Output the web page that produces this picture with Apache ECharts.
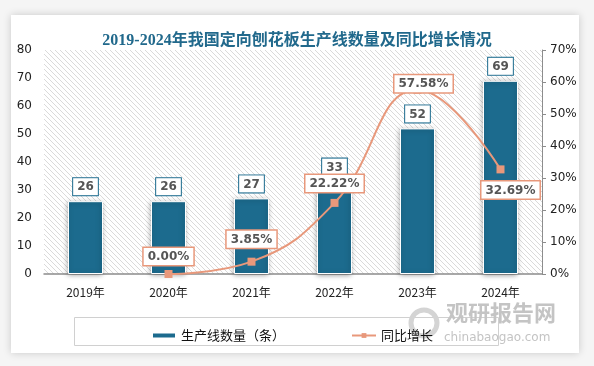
<!DOCTYPE html>
<html><head><meta charset="utf-8">
<script src="https://cdn.jsdelivr.net/npm/echarts@6/dist/echarts.min.js"></script>
<style>html,body{margin:0;padding:0;background:#f5f5f5;}#c{width:594px;height:366px;}</style>
</head><body><div id="c"></div>
<script>
const years = ['2019年','2020年','2021年','2022年','2023年','2024年'];
const lineCount = [26, 26, 27, 33, 52, 69];
const yoyGrowth = [null, 0.00, 3.85, 22.22, 57.58, 32.69];

const pc = document.createElement('canvas');
pc.width = 5; pc.height = 5;
const g = pc.getContext('2d');
g.fillStyle = '#ffffff'; g.fillRect(0,0,5,5);
g.strokeStyle = '#dadada'; g.lineWidth = 1;
g.beginPath(); g.moveTo(-1,-1); g.lineTo(6,6); g.stroke();
g.beginPath(); g.moveTo(-1,4); g.lineTo(1,6); g.stroke();
g.beginPath(); g.moveTo(4,-1); g.lineTo(6,1); g.stroke();

const chart = echarts.init(document.getElementById('c'), null, {renderer:'canvas'});
const blue = '#1c6b8e', salmon = '#e8987b';
const lineLabels = [
  {},
  {position:'top', distance:5},
  {position:'top', distance:10},
  {position:'top', distance:7},
  {position:'inside', offset:[6,-6]},
  {position:'bottom', distance:8, offset:[10,0]}
];
chart.setOption({
  backgroundColor:'#f5f5f5',
  title:{text:'2019-2024年我国定向刨花板生产线数量及同比增长情况', left:'center', top:28,
    textStyle:{fontFamily:'"Liberation Serif","Noto Sans CJK SC",serif', fontSize:16, fontWeight:'bold', color:'#21698c'}},
  graphic:[
    {type:'rect', shape:{x:11,y:15,width:568,height:338}, style:{fill:'#fff', shadowBlur:8, shadowColor:'rgba(0,0,0,0.18)'}, z:-20},
    {type:'rect', shape:{x:44,y:50,width:498,height:224}, style:{fill:{image:pc, repeat:'repeat'}}, z:-10},
    {type:'rect', shape:{x:74.5,y:317.5,width:424,height:28}, style:{fill:'none', stroke:'#d0d0d0', lineWidth:1}, z:-5},
    {type:'circle', shape:{cx:424, cy:323, r:13}, style:{fill:'none', stroke:'#d4d4d4', lineWidth:5}, z:-4},
    {type:'text', left:446, top:302, style:{text:'观研报告网', fill:'#c4c4c4', font:'bold 22px "Noto Sans CJK SC"'}, z:-4},
    {type:'text', left:444, top:332, style:{text:'chinabaogao.com', fill:'#c4c4c4', font:'12px "DejaVu Sans"'}, z:-4}
  ],
  grid:{left:44, right:52, top:50, bottom:92},
  legend:{left:146, top:324, itemGap:66, itemWidth:24, itemHeight:6,
    textStyle:{fontSize:13, color:'#111', fontFamily:'"Noto Sans CJK SC",sans-serif'},
    data:[{name:'生产线数量（条）', icon:'rect'}, {name:'同比增长'}]},
  xAxis:{type:'category', data:years,
    axisLine:{lineStyle:{color:'#8c8c8c', width:1.5}}, axisTick:{show:false},
    axisLabel:{color:'#222', fontSize:12, margin:12, fontFamily:'"Noto Sans CJK SC",sans-serif'}},
  yAxis:[
    {type:'value', min:0, max:80, interval:10, splitLine:{show:false}, axisLine:{show:false}, axisTick:{show:false},
      axisLabel:{color:'#222', fontSize:12, margin:12, fontFamily:'"DejaVu Sans",sans-serif'}},
    {type:'value', min:0, max:70, interval:10, splitLine:{show:false},
      axisLine:{show:true, lineStyle:{color:'#8c8c8c'}}, axisTick:{show:true, length:4, lineStyle:{color:'#8c8c8c'}},
      axisLabel:{color:'#222', fontSize:12, margin:8, formatter:'{value}%', fontFamily:'"DejaVu Sans",sans-serif'}}
  ],
  series:[
    {name:'生产线数量（条）', type:'bar', data:lineCount, barWidth:35, yAxisIndex:0,
      itemStyle:{color:blue, borderColor:'#fff', borderWidth:1, shadowBlur:5, shadowColor:'rgba(0,0,0,0.35)', shadowOffsetX:-1, shadowOffsetY:1},
      label:{show:true, position:'top', distance:6, color:'#555', fontWeight:'bold', fontSize:12,
        fontFamily:'"DejaVu Sans",sans-serif', backgroundColor:'#fff', borderColor:blue, borderWidth:1, padding:[3,4,2,4]}},
    {name:'同比增长', type:'line', yAxisIndex:1, smooth:0.45, symbol:'rect', symbolSize:8,
      data: yoyGrowth.map((v,i)=>({value:v, label:lineLabels[i]})),
      lineStyle:{color:salmon, width:2}, itemStyle:{color:salmon},
      label:{show:true, color:'#555', fontWeight:'bold', fontSize:12, fontFamily:'"DejaVu Sans",sans-serif',
        formatter:p=>p.value.toFixed(2)+'%', backgroundColor:'#fff', borderColor:salmon, borderWidth:1.5, padding:[3,4,2,4]}}
  ]
});
</script></body></html>
